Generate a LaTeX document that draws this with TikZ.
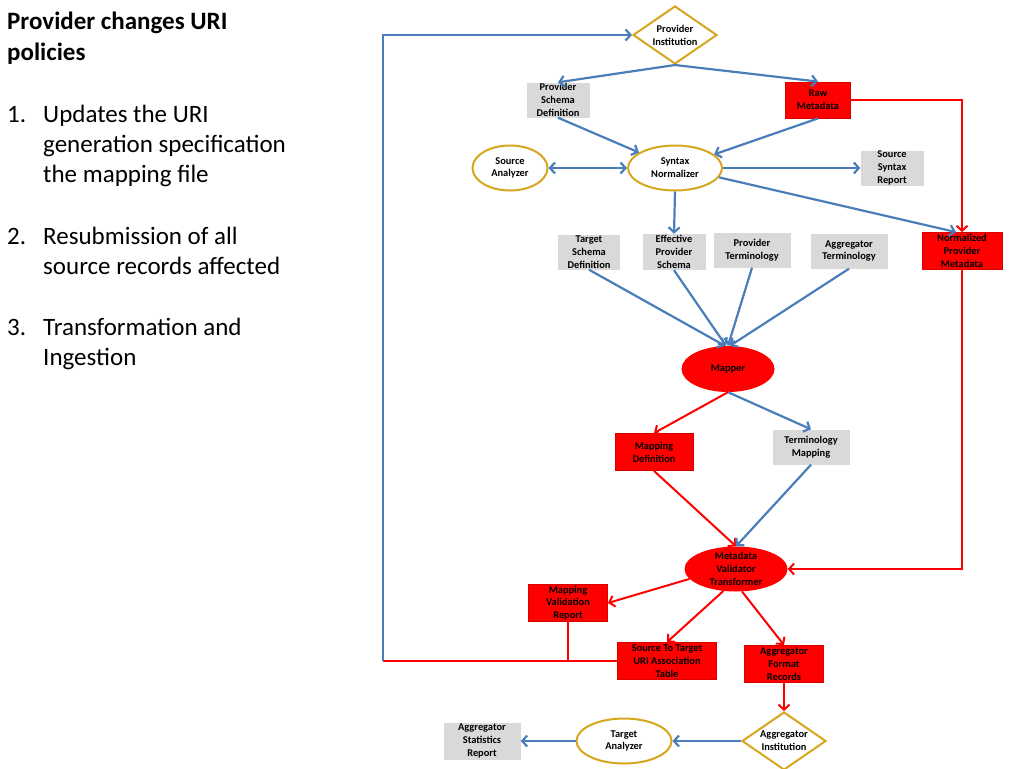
\documentclass[tikz,border=0pt]{standalone}
\usepackage{fontspec}
\setmainfont{Carlito}
\usetikzlibrary{arrows.meta,shapes.geometric}
\definecolor{lineblue}{RGB}{74,126,187}
\definecolor{boxgray}{RGB}{217,217,217}
\definecolor{ringgold}{RGB}{214,166,30}

\begin{document}
\begin{tikzpicture}[x=1pt,y=-1pt,>={Straight Barb[length=5pt,width=11pt]}]
\tikzstyle{every node}=[font=\fontsize{10.4}{12.8}\selectfont\bfseries,align=center,inner sep=0pt];
\tikzstyle{graybox}=[rectangle,fill=boxgray,inner ysep=-6pt];
\tikzstyle{redbox}=[rectangle,fill=red,draw=red!85!black,line width=0.8pt,inner ysep=-6pt];
\tikzstyle{goldell}=[ellipse,draw=ringgold,fill=white,line width=2pt,inner sep=-12pt];
\tikzstyle{redell}=[ellipse,fill=red,inner sep=-12pt];
\tikzstyle{golddia}=[diamond,aspect=1.45,draw=ringgold,fill=white,line width=2pt,inner sep=-12pt,minimum width=84pt,minimum height=58pt];
\tikzstyle{blueline}=[draw=lineblue,line width=2.2pt];
\tikzstyle{redline}=[draw=red,line width=2pt];
\tikzstyle{bigtext}=[font=\fontsize{25}{30}\selectfont,anchor=base west,align=left];
\fill[white] (0,0) rectangle (1024,768);
\useasboundingbox (0,0) rectangle (1024,768);
% left hand text
\node[bigtext,font=\fontsize{25}{30}\selectfont\bfseries] (title1) at (7,30) {Provider changes URI};
\node[bigtext,font=\fontsize{25}{30}\selectfont\bfseries] (title2) at (7,60) {policies};
\node[bigtext] (num1) at (7,122) {1.};
\node[bigtext] (item1a) at (43,122) {Updates the URI};
\node[bigtext] (item1b) at (43,152) {generation specification};
\node[bigtext] (item1c) at (43,182) {the mapping file};
\node[bigtext] (num2) at (7,244) {2.};
\node[bigtext] (item2a) at (43,244) {Resubmission of all};
\node[bigtext] (item2b) at (43,274) {source records affected};
\node[bigtext] (num3) at (7,335) {3.};
\node[bigtext] (item3a) at (43,335) {Transformation and};
\node[bigtext] (item3b) at (43,365) {Ingestion};
% flow nodes
\node[golddia] (pi) at (675,35) {Provider\\Institution};
\node[graybox,minimum width=63pt,minimum height=35pt] (psd) at (558,100) {Provider\\Schema\\Definition};
\node[redbox,minimum width=65pt,minimum height=36pt] (rm) at (818,100) {Raw\\Metadata};
\node[goldell,minimum width=75pt,minimum height=45pt] (sa) at (510,168) {Source\\Analyzer};
\node[goldell,minimum width=94pt,minimum height=45pt] (sn) at (675,168) {Syntax\\Normalizer};
\node[graybox,minimum width=63pt,minimum height=35pt] (ssr) at (892,168) {Source\\Syntax\\Report};
\node[graybox,minimum width=62pt,minimum height=35pt] (tsd) at (589,252) {Target\\Schema\\Definition};
\node[graybox,minimum width=63pt,minimum height=36pt] (eps) at (674,252) {Effective\\Provider\\Schema};
\node[graybox,minimum width=77pt,minimum height=35pt] (pt) at (752,250) {Provider\\Terminology};
\node[graybox,minimum width=77pt,minimum height=35pt] (at) at (849,251) {Aggregator\\Terminology};
\node[redbox,minimum width=80pt,minimum height=37pt] (npm) at (962,251) {Normalized\\Provider\\Metadata};
\node[redell,minimum width=93pt,minimum height=46pt] (mp) at (728,369) {Mapper};
\node[redbox,minimum width=78pt,minimum height=37pt] (md) at (654,452) {Mapping\\Definition};
\node[graybox,minimum width=77pt,minimum height=35pt] (tm) at (811,447) {Terminology\\Mapping};
\node[redell,minimum width=103pt,minimum height=45pt] (mvt) at (736,569) {Metadata\\Validator\\Transformer};
\node[redbox,minimum width=79pt,minimum height=37pt] (mvr) at (568,603) {Mapping\\Validation\\Report};
\node[redbox,minimum width=99pt,minimum height=37pt] (stt) at (667,661) {Source To Target\\URI Association\\Table};
\node[redbox,minimum width=79pt,minimum height=37pt] (afr) at (784,664) {Aggregator\\Format\\Records};
\node[golddia] (ai) at (784,741) {Aggregator\\Institution};
\node[goldell,minimum width=95pt,minimum height=45pt] (ta) at (624,741) {Target\\Analyzer};
\node[graybox,minimum width=77pt,minimum height=37pt] (asr) at (482,741) {Aggregator\\Statistics\\Report};
\coordinate (fb) at (383,661);
% connectors
\draw[blueline,->] (pi.south) -- (psd.north);
\draw[blueline,->] (pi.south) -- (rm.north);
\draw[blueline,->] (psd.south) -- (sn);
\draw[blueline,->] (rm.south) -- (sn);
\draw[blueline,<->] (sa.east) -- (sn.west);
\draw[blueline,->] (sn.east) -- (ssr.west);
\draw[blueline,->] (sn.-12) -- ([xshift=-6pt]npm.north);
\draw[redline,->] (rm.east) -| (npm.north);
\draw[blueline,->] (sn.south) -- (eps.north);
\draw[blueline,->] (tsd.south) -- ([xshift=-3pt]mp.north);
\draw[blueline,->] (eps.south) -- ([xshift=-2pt]mp.north);
\draw[blueline,->] (pt.south) -- (mp.north);
\draw[blueline,->] (at.south) -- ([xshift=2pt]mp.north);
\draw[redline,->] (mp.south) -- (md.north);
\draw[blueline,->] (mp.south) -- (tm.north);
\draw[redline,->] (md.south) -- (mvt.north);
\draw[blueline,->] (tm.south) -- (mvt.north);
\draw[redline,->] (npm.south) |- (mvt.east);
\draw[redline,->] (mvt.192) -- (mvr.east);
\draw[redline,->] (mvt.240) -- (stt.north);
\draw[redline,->] (mvt.285) -- (afr.north);
\draw[redline,->] (afr.south) -- (ai.north);
\draw[blueline,->] (ai.west) -- (ta.east);
\draw[blueline,->] (ta.west) -- (asr.east);
\draw[redline] (stt.west) -- (fb);
\draw[redline] (mvr.south) -- (mvr.south |- fb);
\draw[blueline,->] (fb) |- (pi.west);
\end{tikzpicture}
\end{document}
